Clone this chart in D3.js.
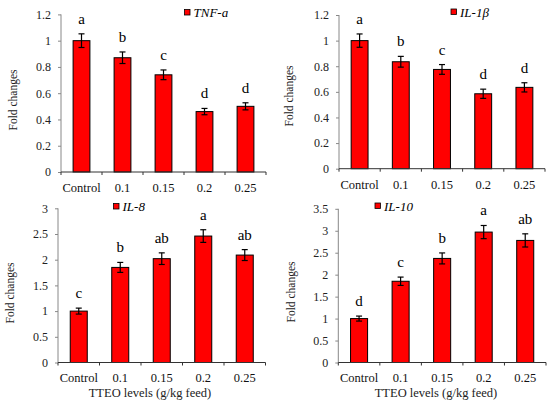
<!DOCTYPE html>
<html><head><meta charset="utf-8">
<script src="https://cdn.jsdelivr.net/npm/d3@7/dist/d3.min.js"></script>
<style>
html,body{margin:0;padding:0;background:#fff;}
svg{display:block;}
svg text{font-family:'Liberation Serif','Times New Roman',Times,'DejaVu Serif',serif !important;}
</style></head><body>
<svg id="c" width="550" height="404"></svg>
<script>
const categories = ["Control","0.1","0.15","0.2","0.25"];
const tnfValues = [1.00,0.87,0.74,0.46,0.50];
const tnfErrors = [0.052,0.044,0.037,0.024,0.027];
const tnfLetters = ["a","b","c","d","d"];
const il1bValues = [1.00,0.835,0.775,0.585,0.635];
const il1bErrors = [0.052,0.042,0.038,0.036,0.036];
const il1bLetters = ["a","b","c","d","d"];
const il8Values = [1.00,1.85,2.02,2.46,2.09];
const il8Errors = [0.058,0.097,0.113,0.123,0.106];
const il8Letters = ["c","b","ab","a","ab"];
const il10Values = [1.00,1.85,2.37,2.97,2.78];
const il10Errors = [0.057,0.095,0.125,0.15,0.15];
const il10Letters = ["d","c","b","a","ab"];
const tnfTicks = [0,0.2,0.4,0.6,0.8,1,1.2];
const il1bTicks = [0,0.2,0.4,0.6,0.8,1,1.2];
const il8Ticks = [0,0.5,1,1.5,2,2.5,3];
const il10Ticks = [0,0.5,1,1.5,2,2.5,3,3.5];
const yLabel = "Fold changes";
const xLabel = "TTEO levels (g/kg feed)";

const panels = [
  {name:"TNF-a", values:tnfValues, errors:tnfErrors, letters:tnfLetters, ticks:tnfTicks,
   x0:61, x1:266, y0:172, y1:14.4, legX:184.5, legY:9.5, ylx:17, yly:100, xtitle:false},
  {name:"IL-1\u03b2", values:il1bValues, errors:il1bErrors, letters:il1bLetters, ticks:il1bTicks,
   x0:339, x1:545, y0:168.7, y1:15, legX:451, legY:9, ylx:293, yly:96, xtitle:false},
  {name:"IL-8", values:il8Values, errors:il8Errors, letters:il8Letters, ticks:il8Ticks,
   x0:58, x1:265.5, y0:362.5, y1:208.3, legX:113.5, legY:203.5, ylx:14, yly:293, xtitle:true, xtx:150},
  {name:"IL-10", values:il10Values, errors:il10Errors, letters:il10Letters, ticks:il10Ticks,
   x0:338.3, x1:546, y0:362.5, y1:208.8, legX:375, legY:203, ylx:295, yly:292, xtitle:true, xtx:436}
];

const svg = d3.select("#c");

panels.forEach(p => {
  const g = svg.append("g");
  const x = d3.scaleBand().domain(categories).range([p.x0, p.x1]).paddingInner(0.59).paddingOuter(0.295);
  const ymax = p.ticks[p.ticks.length-1];
  const y = d3.scaleLinear().domain([0, ymax]).range([p.y0, p.y1]);
  const rows = categories.map((c,i)=>({c, v:p.values[i], e:p.errors[i], l:p.letters[i]}));

  g.selectAll("rect.bar").data(rows).join("rect")
    .attr("x", d=>x(d.c)).attr("width", x.bandwidth())
    .attr("y", d=>y(d.v)).attr("height", d=>y(0)-y(d.v))
    .attr("fill","#ff0000").attr("stroke","#000").attr("stroke-width",1);

  const cx = d=>x(d.c)+x.bandwidth()/2;
  g.selectAll("line.err").data(rows).join("line")
    .attr("x1",cx).attr("x2",cx).attr("y1",d=>y(d.v+d.e)).attr("y2",d=>y(d.v-d.e))
    .attr("stroke","#000").attr("stroke-width",1.2);
  ["top","bot"].forEach(k=>{
    g.selectAll("line.cap"+k).data(rows).join("line")
      .attr("x1",d=>cx(d)-3).attr("x2",d=>cx(d)+3)
      .attr("y1",d=>y(k==="top"?d.v+d.e:d.v-d.e)).attr("y2",d=>y(k==="top"?d.v+d.e:d.v-d.e))
      .attr("stroke","#000").attr("stroke-width",1.2);
  });

  g.selectAll("text.let").data(rows).join("text")
    .attr("x",cx).attr("y",d=>y(d.v+d.e)-10)
    .attr("text-anchor","middle").attr("font-size",15).attr("fill","#000")
    .text(d=>d.l);

  const ya = g.append("g").attr("transform",`translate(${p.x0},0)`)
    .call(d3.axisLeft(y).tickValues(p.ticks).tickSize(3).tickPadding(7).tickFormat(d=>String(d)));
  ya.select(".domain").attr("stroke","#888").attr("d",`M0,${p.y1}V${p.y0}`);
  ya.selectAll(".tick line").attr("stroke","#888");
  ya.selectAll(".tick text").attr("font-size",12).attr("fill","#222");

  const xa = g.append("g").attr("transform",`translate(0,${p.y0})`)
    .call(d3.axisBottom(x).tickSize(0).tickPadding(11));
  xa.select(".domain").attr("stroke","#333").attr("d",`M${p.x0},0H${p.x1}`);
  xa.selectAll(".tick text").attr("font-size",12.5).attr("fill","#111");
  const step = x.step();
  g.selectAll("line.xt").data(d3.range(categories.length+1)).join("line")
    .attr("x1",i=>p.x0+i*step).attr("x2",i=>p.x0+i*step)
    .attr("y1",p.y0).attr("y2",p.y0+3).attr("stroke","#333");

  g.append("text").attr("transform",`translate(${p.ylx},${p.yly}) rotate(-90)`)
    .attr("text-anchor","middle").attr("font-size",11.5).attr("fill","#222").text(yLabel);

  g.append("rect").attr("x",p.legX).attr("y",p.legY).attr("width",5.5).attr("height",5.5)
    .attr("fill","#ff0000").attr("stroke","#000").attr("stroke-width",0.8);
  g.append("text").attr("x",p.legX+9).attr("y",p.legY+7.5).attr("font-size",13)
    .attr("font-style","italic").attr("fill","#000").text(p.name);

  if (p.xtitle) {
    g.append("text").attr("x",p.xtx).attr("y",397).attr("text-anchor","middle")
      .attr("font-size",12.5).attr("fill","#222").text(xLabel);
  }
});
</script>
</body></html>
